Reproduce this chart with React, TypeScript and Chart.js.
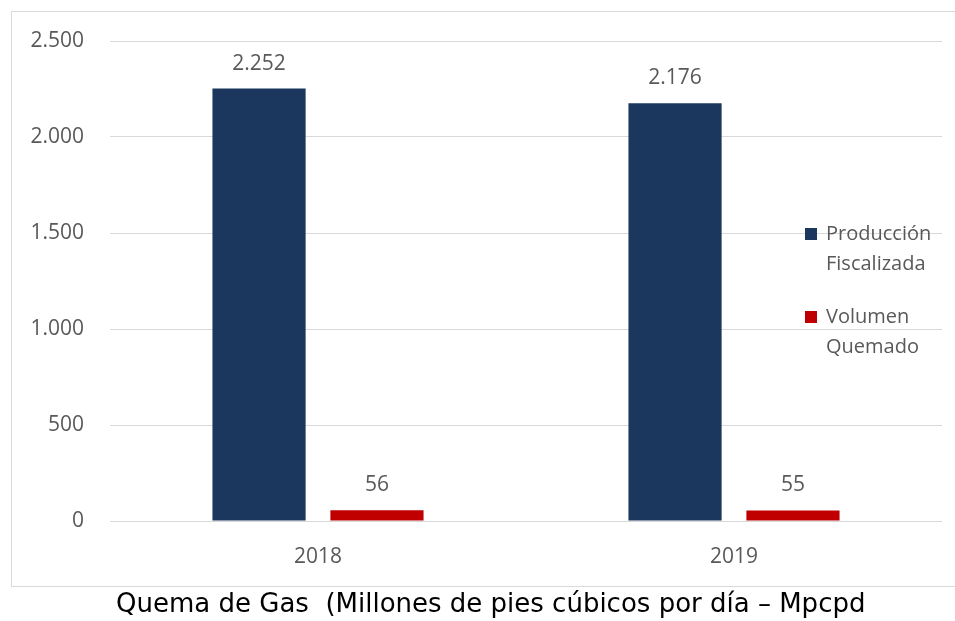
import React, { useEffect, useRef } from "react";
import { Chart, registerables } from "chart.js";

Chart.register(...registerables);

const categories = ["2018", "2019"];
const produccion = [2252, 2176];
const quemado = [56, 55];
const seriesLabels = ["Producción Fiscalizada", "Volumen Quemado"];
const yTicks = [0, 500, 1000, 1500, 2000, 2500];
const title = "Quema de Gas  (Millones de pies cúbicos por día – Mpcpd";

const BLUE = "#1b375d";
const RED = "#c00000";
const GREY = "#595959";
const GRID = "#d9d9d9";
const FONT = "'Open Sans', 'Noto Sans', sans-serif";

const fmt = (v: number) => String(Math.round(v)).replace(/\B(?=(\d{3})+(?!\d))/g, ".");

const framePlugin = {
  id: "frame",
  beforeDraw(chart: any) {
    const ctx = chart.ctx;
    ctx.save();
    ctx.strokeStyle = GRID;
    ctx.lineWidth = 1;
    ctx.strokeRect(11.5, 11.5, 960, 575);
    ctx.restore();
  },
};

const labelsPlugin = {
  id: "valueLabels",
  afterDatasetsDraw(chart: any) {
    const ctx = chart.ctx;
    ctx.save();
    ctx.font = `21px ${FONT}`;
    ctx.fillStyle = GREY;
    ctx.textAlign = "center";
    ctx.textBaseline = "middle";
    chart.data.datasets.forEach((ds: any, i: number) => {
      const meta = chart.getDatasetMeta(i);
      meta.data.forEach((bar: any, j: number) => {
        ctx.fillText(fmt(ds.data[j]), bar.x, bar.y - 25);
      });
    });
    ctx.restore();
  },
};

const legendPlugin = {
  id: "sideLegend",
  afterDraw(chart: any) {
    const ctx = chart.ctx;
    ctx.save();
    ctx.font = `20px ${FONT}`;
    ctx.textBaseline = "middle";
    ctx.textAlign = "left";
    chart.data.datasets.forEach((ds: any, i: number) => {
      const y0 = 234 + i * 83;
      ctx.fillStyle = ds.backgroundColor;
      ctx.fillRect(805, y0 - 6, 12, 12);
      ctx.fillStyle = GREY;
      String(ds.label)
        .split(" ")
        .forEach((w: string, k: number) => {
          ctx.fillText(w, 826, y0 + k * 30);
        });
    });
    ctx.restore();
  },
};

export default function App() {
  const ref = useRef<HTMLCanvasElement | null>(null);

  useEffect(() => {
    if (!ref.current) return;
    const chart = new Chart(ref.current, {
      type: "bar",
      data: {
        labels: categories,
        datasets: [
          {
            label: seriesLabels[0],
            data: produccion,
            backgroundColor: BLUE,
            categoryPercentage: 0.567,
            barPercentage: 0.79,
          },
          {
            label: seriesLabels[1],
            data: quemado,
            backgroundColor: RED,
            categoryPercentage: 0.567,
            barPercentage: 0.79,
          },
        ],
      },
      options: {
        animation: false,
        responsive: false,
        maintainAspectRatio: false,
        layout: { padding: { left: 0, right: 13, top: 41, bottom: 40 } },
        plugins: {
          legend: { display: false },
          tooltip: { enabled: false },
          title: { display: false },
        },
        scales: {
          x: {
            grid: { display: false, drawTicks: false },
            border: { display: false },
            ticks: { color: GREY, font: { family: FONT, size: 21 }, padding: 23 },
            afterFit(scale: any) {
              scale.height = 60;
            },
          },
          y: {
            min: 0,
            max: 2500,
            afterBuildTicks(scale: any) {
              scale.ticks = yTicks.map((v) => ({ value: v }));
            },
            grid: { color: GRID, lineWidth: 1, drawTicks: false },
            border: { display: false },
            ticks: {
              color: GREY,
              font: { family: FONT, size: 21 },
              padding: 26,
              callback: (v: any) => fmt(Number(v)),
            },
            afterFit(scale: any) {
              scale.width = 110;
            },
          },
        },
      },
      plugins: [framePlugin, labelsPlugin, legendPlugin],
    });
    return () => chart.destroy();
  }, []);

  return (
    <div style={{ position: "fixed", left: 0, top: 0, width: 955, height: 621, background: "#fff" }}>
      <canvas ref={ref} width={955} height={621} style={{ position: "absolute", left: 0, top: 0 }} />
      <div
        style={{
          position: "absolute",
          left: 116,
          top: 588,
          fontFamily: "'DejaVu Sans', sans-serif",
          fontSize: 26,
          color: "#000",
          whiteSpace: "pre",
          lineHeight: "30px",
        }}
      >
        {title}
      </div>
    </div>
  );
}
